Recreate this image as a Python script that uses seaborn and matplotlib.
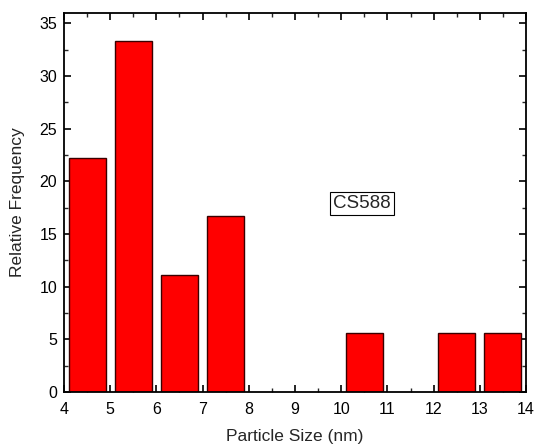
import matplotlib
matplotlib.use("Agg")
import matplotlib.pyplot as plt
import seaborn as sns
import pandas as pd
from matplotlib.ticker import MultipleLocator

sizes = [4.5, 5.5, 6.5, 7.5, 10.5, 12.5, 13.5]
freqs = [22.22, 33.33, 11.11, 16.67, 5.56, 5.56, 5.56]
xticks = [4, 5, 6, 7, 8, 9, 10, 11, 12, 13, 14]
yticks = [0, 5, 10, 15, 20, 25, 30, 35]
label_text = "CS588"

sns.set_style("ticks")
plt.rcParams['font.family'] = ['Liberation Sans', 'DejaVu Sans']

df = pd.DataFrame({"size": sizes, "freq": freqs})

fig = plt.figure(figsize=(5.35, 4.46), dpi=100)
ax = fig.add_axes([0.1196, 0.121, 0.8636, 0.850])

sns.barplot(data=df, x="size", y="freq", native_scale=True, width=0.8,
            color="#ff0000", saturation=1, edgecolor="#3a0000", linewidth=1.0, ax=ax)

ax.set_xlim(4, 14)
ax.set_ylim(0, 36)
ax.set_xticks(xticks)
ax.set_xticklabels([str(t) for t in xticks])
ax.set_yticks(yticks)
ax.set_yticklabels([str(t) for t in yticks])
ax.xaxis.set_minor_locator(MultipleLocator(0.5))
ax.yaxis.set_minor_locator(MultipleLocator(2.5))
ax.tick_params(which="major", direction="in", length=5, width=1.2, top=True, right=True,
               labelsize=11.5, colors="black")
ax.tick_params(axis="x", which="major", pad=7)
ax.tick_params(axis="y", which="major", pad=5)
ax.tick_params(which="minor", direction="in", length=3, width=1.0, top=True, right=True)
for s in ax.spines.values():
    s.set_visible(True)
    s.set_linewidth(1.3)
    s.set_color("black")

ax.set_xlabel("Particle Size (nm)", fontsize=12.5, labelpad=9)
ax.set_ylabel("Relative Frequency", fontsize=12.5, labelpad=10)

ax.text(10.45, 17.9, label_text, fontsize=13.5, ha="center", va="center",
        bbox=dict(boxstyle="square,pad=0.15", facecolor="white", edgecolor="black", linewidth=0.8))

fig.savefig("out.png", dpi=100)
